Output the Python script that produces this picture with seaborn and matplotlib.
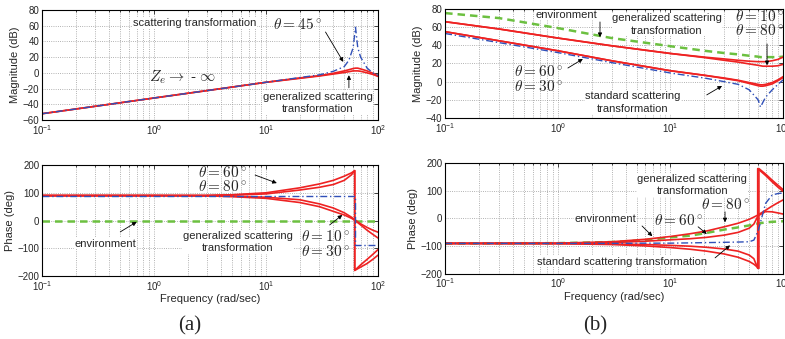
import numpy as np
import matplotlib
matplotlib.use("Agg")
import matplotlib.pyplot as plt
import seaborn as sns

sns.set_style("white")
plt.rcParams['font.family'] = ['Liberation Sans', 'DejaVu Sans']
plt.rcParams['mathtext.fontset'] = 'cm'

# ---- panel (a): magnitude ----
w_a_mag = [0.1, 0.3, 1, 3, 10, 20, 30, 40, 50, 55, 60, 63, 66, 70, 80, 90, 100]
mag_a_std = [-52, -42.5, -32, -22.5, -12, -6, -2.5, 2, 8, 16, 32, 58, 32, 20, 6, 0, -3]
mag_a_gen1 = [-52, -42.5, -32, -22.5, -12, -6.5, -3.5, -0.5, 2.5, 4, 5.5, 6, 6, 5, 2.5, -0.5, -4]
mag_a_gen2 = [-52, -42.5, -32, -22.5, -12, -7, -4, -1.5, 0.5, 1.5, 2.5, 2.5, 2.5, 2, 0, -2, -4.5]

# ---- panel (a): phase ----
w_a_env = [0.1, 100]
ph_a_env = [0, 0]
w_a_std = [0.1, 62, 62, 100]
ph_a_std = [90, 90, -90, -90]
w_a_up = [0.1, 1, 3, 5, 10, 20, 30, 40, 50, 58, 62, 62, 70, 80, 90, 100]
ph_a_th60 = [90, 90, 91, 93, 100, 118, 132, 145, 160, 172, 180, -180, -160, -140, -122, -105]
ph_a_th80 = [90, 90, 90, 92, 96, 110, 120, 130, 145, 165, 180, -180, -168, -155, -140, -125]
w_a_dn = [0.1, 1, 3, 5, 10, 20, 30, 40, 50, 58, 62, 70, 80, 90, 100]
ph_a_th10 = [90, 90, 89, 88, 84, 75, 60, 45, 28, 12, 3, -12, -25, -35, -42]
ph_a_th30 = [90, 90, 89, 86, 80, 65, 50, 33, 20, 8, 1, -16, -35, -50, -63]

# ---- panel (b): magnitude ----
w_b_mag = [0.1, 0.3, 1, 3, 10, 20, 30, 40, 50, 60, 63, 66, 70, 80, 90, 100]
mag_b_env = [75.5, 70, 59, 48, 39, 34, 31.5, 30, 28.5, 27.5, 27, 27, 27, 27, 27, 27.5]
mag_b_th10 = [66, 58, 48, 39.5, 31, 27, 25, 23.5, 22.5, 22, 22, 22, 22, 23, 24.5, 27]
mag_b_th80 = [66, 58, 48, 39.5, 31, 26.5, 23.5, 21.5, 19.5, 18, 17.5, 17, 17, 17, 17.5, 19]
mag_b_th60 = [55, 45, 34, 23, 12, 7, 4, 1.5, -1, -3, -3.5, -3.5, -3, -1, 2, 5.5]
mag_b_th30 = [55, 45, 34, 23, 12, 7, 3.5, 1, -2, -4.5, -5, -5, -4.5, -2.5, 1, 4.5]
mag_b_std = [53, 43, 32, 21, 9.5, 4, 0, -3, -9, -20, -28, -23, -17, -9, -3, 2]

# ---- panel (b): phase ----
w_b_ph = [0.1, 1, 3, 6, 10, 15, 21, 30, 40, 50, 55, 60, 70, 80, 90, 100]
ph_b_env = [-90, -89, -85, -78, -68, -62, -52, -40, -32, -25, -21, -18, -14, -12, -11, -10]
ph_b_th80 = [-90, -89, -84, -75, -65, -55, -45, -30, -17, -3, 5, 13, 30, 45, 57, 67]
ph_b_th60 = [-90, -90, -87, -82, -77, -73, -68, -60, -50, -35, -20, 10, 25, 24, 20, 16]
ph_b_std = [-90, -90, -90, -89, -89, -88, -87, -86, -85, -84, -78, -45, 55, 85, 90, 92]
w_b_lo10 = [0.1, 1, 3, 6, 10, 15, 21, 30, 40, 50, 55, 59.5, 59.5, 70, 80, 90, 100]
ph_b_th10 = [-90, -90, -92, -94, -97, -100, -104, -110, -118, -132, -145, -180, 180, 155, 132, 113, 98]
w_b_lo30 = [0.1, 1, 3, 6, 10, 15, 21, 30, 40, 50, 55, 61, 61, 70, 80, 90, 100]
ph_b_th30 = [-90, -91, -94, -99, -105, -111, -118, -128, -140, -155, -165, -180, 180, 160, 138, 120, 104]

RED = '#ee2222'
BLUE = '#3050b8'
GREEN = '#6cc040'

fig = plt.figure(figsize=(7.85, 3.39), dpi=100)
axes = {
    'a_mag': fig.add_axes([0.0535, 0.646, 0.428, 0.3245]),
    'a_ph': fig.add_axes([0.0535, 0.186, 0.428, 0.327]),
    'b_mag': fig.add_axes([0.567, 0.652, 0.4306, 0.3215]),
    'b_ph': fig.add_axes([0.567, 0.192, 0.4306, 0.327]),
}


def curve(ax, w, y, color, ls='-', lw=1.2):
    sns.lineplot(x=w, y=y, ax=ax, color=color, linestyle=ls, linewidth=lw,
                 estimator=None, sort=False, legend=False)


def env(ax, w, y):
    curve(ax, w, y, GREEN, ls=(0, (3, 2)), lw=1.8)


def std(ax, w, y):
    curve(ax, w, y, BLUE, ls=(0, (5, 2, 1, 2)), lw=1.0)


# (a) magnitude
ax = axes['a_mag']
curve(ax, w_a_mag, mag_a_gen1, RED)
curve(ax, w_a_mag, mag_a_gen2, RED)
std(ax, w_a_mag, mag_a_std)

# (a) phase
ax = axes['a_ph']
env(ax, w_a_env, ph_a_env)
curve(ax, w_a_up, ph_a_th60, RED)
curve(ax, w_a_up, ph_a_th80, RED)
curve(ax, w_a_dn, ph_a_th10, RED)
curve(ax, w_a_dn, ph_a_th30, RED)
std(ax, w_a_std, ph_a_std)

# (b) magnitude
ax = axes['b_mag']
env(ax, w_b_mag, mag_b_env)
curve(ax, w_b_mag, mag_b_th10, RED)
curve(ax, w_b_mag, mag_b_th80, RED)
curve(ax, w_b_mag, mag_b_th60, RED)
curve(ax, w_b_mag, mag_b_th30, RED)
std(ax, w_b_mag, mag_b_std)

# (b) phase
ax = axes['b_ph']
env(ax, w_b_ph, ph_b_env)
curve(ax, w_b_ph, ph_b_th80, RED)
curve(ax, w_b_ph, ph_b_th60, RED)
curve(ax, w_b_lo10, ph_b_th10, RED)
curve(ax, w_b_lo30, ph_b_th30, RED)
std(ax, w_b_ph, ph_b_std)

# axes styling, matlab-like
for key, ax in axes.items():
    ax.set_xscale('log')
    ax.set_xlim(0.1, 100)
    if key.endswith('mag'):
        ax.set_ylabel('Magnitude (dB)', fontsize=8, labelpad=2)
    else:
        ax.set_ylim(-200, 200)
        ax.set_yticks([-200, -100, 0, 100, 200])
        ax.set_ylabel('Phase (deg)', fontsize=8, labelpad=2)
        ax.set_xlabel('Frequency (rad/sec)', fontsize=8, labelpad=1)
    ax.grid(True, which='major', ls=':', color='0.6', lw=0.6)
    ax.grid(True, which='minor', axis='x', ls=':', color='0.6', lw=0.6)
    ax.tick_params(which='both', direction='in', top=True, right=True,
                   labelsize=7, width=0.6, pad=2)
    ax.tick_params(which='major', length=3)
    ax.tick_params(which='minor', length=1.5)
    for s in ax.spines.values():
        s.set_linewidth(0.8)
        s.set_color('k')

axes['a_mag'].set_ylim(-60, 80)
axes['a_mag'].set_yticks(range(-60, 81, 20))
axes['b_mag'].set_ylim(-40, 80)
axes['b_mag'].set_yticks(range(-40, 81, 20))

BOX = dict(fc='white', ec='none', pad=0.3)
ARW = dict(arrowstyle='-|>', color='k', lw=0.6, mutation_scale=6, shrinkA=0, shrinkB=0)


def label(ax, x, y, s, size=8, **kw):
    ax.text(x, y, s, fontsize=size, ha='center', va='center', bbox=BOX,
            linespacing=1.3, **kw)


def theta(ax, x, y, s):
    # math labels sit on top without hiding curves
    ax.text(x, y, s, fontsize=11, ha='center', va='center')


def arrow(ax, tail, head):
    ax.annotate('', xy=head, xytext=tail, arrowprops=ARW)


# annotations (a) magnitude
ax = axes['a_mag']
label(ax, 2.3, 63, 'scattering transformation')
theta(ax, 19, 61, r'$\theta = 45^\circ$')
arrow(ax, (34, 52), (49, 14))
theta(ax, 1.8, -5, r'$Z_e \rightarrow$ - $\infty$')
label(ax, 29, -38, 'generalized scattering\ntransformation')
arrow(ax, (55, -19), (55, -3))

# annotations (a) phase
ax = axes['a_ph']
theta(ax, 4.05, 175, r'$\theta = 60^\circ$')
theta(ax, 4.05, 121, r'$\theta = 80^\circ$')
arrow(ax, (8.0, 164), (12.5, 135))
label(ax, 0.365, -84, 'environment')
arrow(ax, (0.50, -41), (0.70, -5))
label(ax, 5.6, -77, 'generalized scattering\ntransformation')
arrow(ax, (37, -16), (48, 20))
theta(ax, 33.7, -56, r'$\theta = 10^\circ$')
theta(ax, 33.7, -113, r'$\theta = 30^\circ$')

# annotations (b) magnitude
ax = axes['b_mag']
label(ax, 1.19, 73.4, 'environment')
arrow(ax, (2.37, 65.7), (2.37, 49))
label(ax, 9.3, 63, 'generalized scattering\ntransformation')
theta(ax, 62, 72, r'$\theta = 10^\circ$')
theta(ax, 62, 56, r'$\theta = 80^\circ$')
arrow(ax, (72, 41.5), (72, 18))
theta(ax, 0.67, 10.7, r'$\theta = 60^\circ$')
theta(ax, 0.67, -5.8, r'$\theta = 30^\circ$')
arrow(ax, (1.23, 15), (1.67, 25))
label(ax, 4.66, -23, 'standard scattering\ntransformation')
arrow(ax, (21, -14.6), (28.7, -4.7))

# annotations (b) phase
ax = axes['b_ph']
label(ax, 15.6, 121, 'generalized scattering\ntransformation')
theta(ax, 30.5, 49, r'$\theta = 80^\circ$')
arrow(ax, (30.5, 24), (30.5, -14))
theta(ax, 11.9, -9, r'$\theta = 60^\circ$')
arrow(ax, (17.6, -30), (21, -56))
label(ax, 2.63, -2, 'environment')
arrow(ax, (5.6, -27), (6.9, -64))
label(ax, 3.72, -156, 'standard scattering transformation')
arrow(ax, (24.9, -142), (33.8, -97))

fig.text(0.242, 0.04, '(a)', fontsize=15, ha='center', va='center',
         family='Liberation Serif')
fig.text(0.758, 0.04, '(b)', fontsize=15, ha='center', va='center',
         family='Liberation Serif')

fig.savefig('out.png', dpi=100)
